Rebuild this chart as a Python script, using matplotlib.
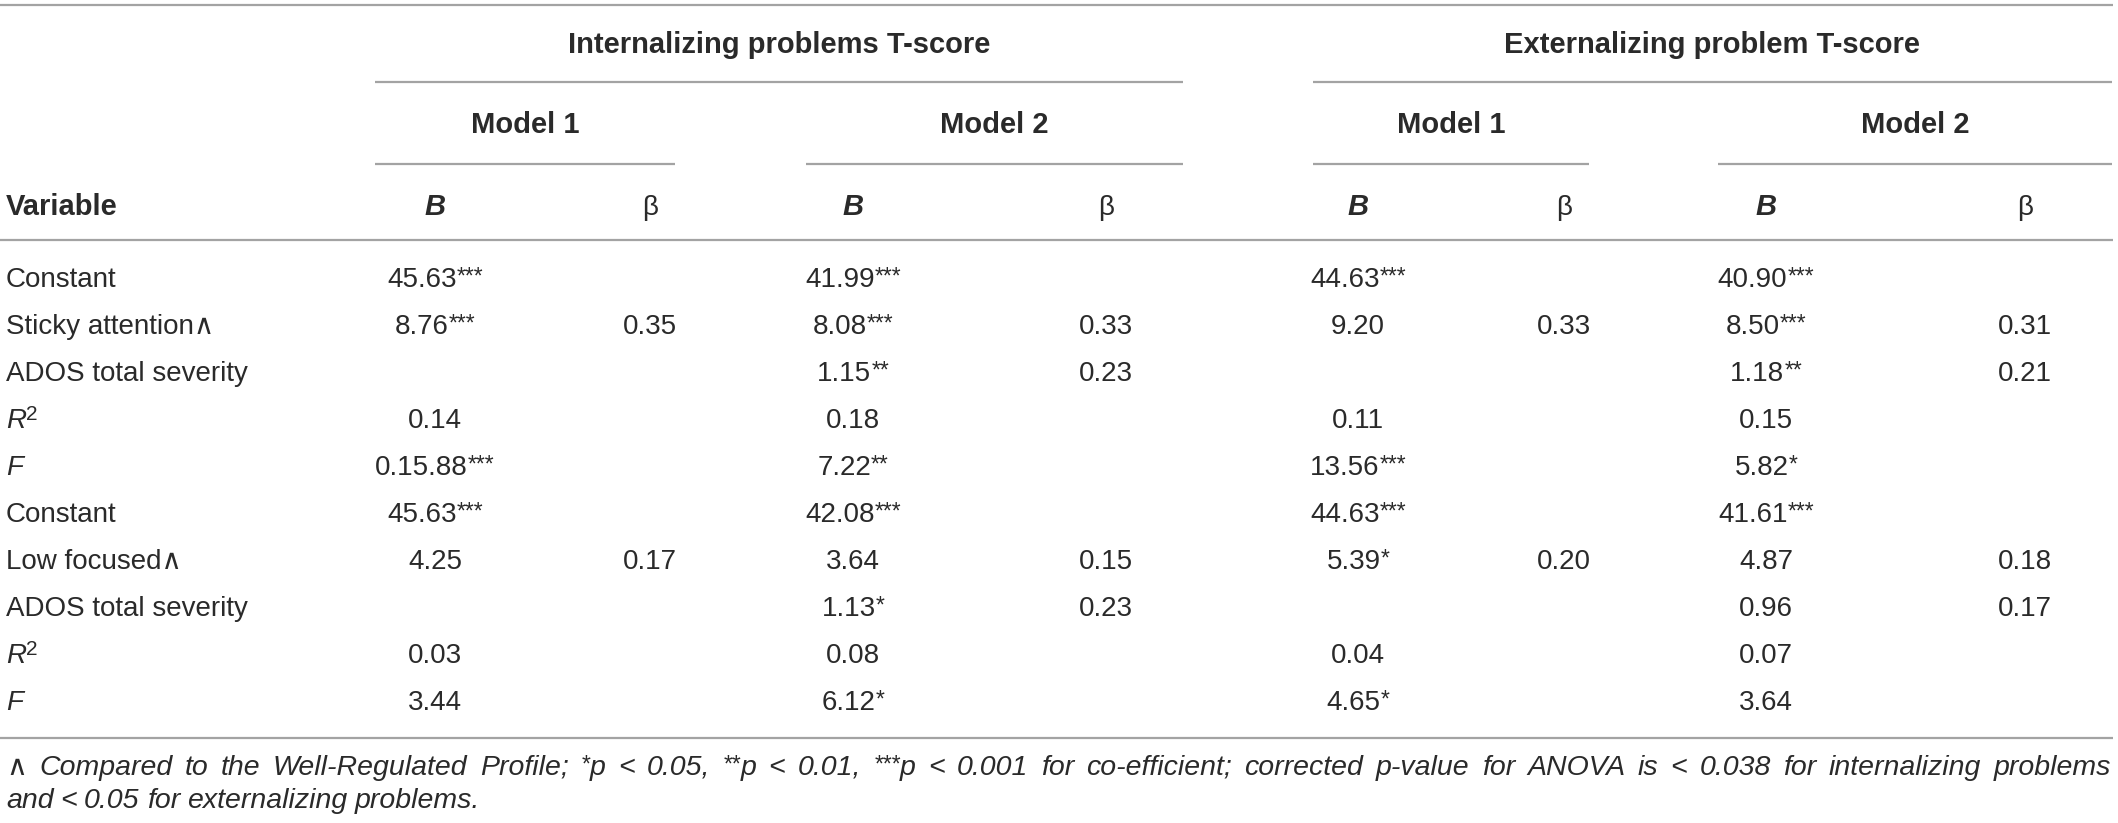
import re
import matplotlib
matplotlib.use("Agg")
import matplotlib.pyplot as plt

# table content
group_titles = ["Internalizing problems T-score", "Externalizing problem T-score"]
model_titles = ["Model 1", "Model 2", "Model 1", "Model 2"]
col_heads = ["B", "\u03b2", "B", "\u03b2", "B", "\u03b2", "B", "\u03b2"]
row_labels = ["Constant", "Sticky attention\u2227", "ADOS total severity", "R2", "F",
              "Constant", "Low focused\u2227", "ADOS total severity", "R2", "F"]
int_m1_B = ["45.63***", "8.76***", "", "0.14", "0.15.88***", "45.63***", "4.25", "", "0.03", "3.44"]
int_m1_beta = ["", "0.35", "", "", "", "", "0.17", "", "", ""]
int_m2_B = ["41.99***", "8.08***", "1.15**", "0.18", "7.22**", "42.08***", "3.64", "1.13*", "0.08", "6.12*"]
int_m2_beta = ["", "0.33", "0.23", "", "", "", "0.15", "0.23", "", ""]
ext_m1_B = ["44.63***", "9.20", "", "0.11", "13.56***", "44.63***", "5.39*", "", "0.04", "4.65*"]
ext_m1_beta = ["", "0.33", "", "", "", "", "0.20", "", "", ""]
ext_m2_B = ["40.90***", "8.50***", "1.18**", "0.15", "5.82*", "41.61***", "4.87", "0.96", "0.07", "3.64"]
ext_m2_beta = ["", "0.31", "0.21", "", "", "", "0.18", "0.17", "", ""]
footnote_1 = ("\u2227 Compared to the Well-Regulated Profile; *p < 0.05, **p < 0.01, ***p < 0.001 "
              "for co-efficient; corrected p-value for ANOVA is < 0.038 for internalizing problems")
footnote_2 = "and < 0.05 for externalizing problems."

columns = [int_m1_B, int_m1_beta, int_m2_B, int_m2_beta,
           ext_m1_B, ext_m1_beta, ext_m2_B, ext_m2_beta]

W, H = 2118, 823
FAM = ["Liberation Sans", "DejaVu Sans"]
FS = 20
TXT = "#2a2a2a"
LINE = "#a3a3a3"

fig = plt.figure(figsize=(W / 100, H / 100), dpi=100)
ax = fig.add_axes([0, 0, 1, 1])
ax.set_xlim(0, W)
ax.set_ylim(H, 0)
ax.axis("off")
renderer = fig.canvas.get_renderer()

styles = {
    "n": dict(fontsize=FS, rise=0),
    "b": dict(fontsize=21, rise=0, fontweight="bold"),
    "bi": dict(fontsize=21, rise=0, fontweight="bold", fontstyle="italic"),
    "i": dict(fontsize=FS, rise=0, fontstyle="italic"),
    "sup": dict(fontsize=16.5, rise=-3),
    "sup2": dict(fontsize=15, rise=-8),
    "fi": dict(fontsize=20.5, rise=0, fontstyle="italic"),
    "fsup": dict(fontsize=16.5, rise=-3, fontstyle="italic"),
}


def make_runs(runs, y):
    objs = []
    for txt, kind in runs:
        st = dict(styles[kind])
        rise = st.pop("rise")
        t = ax.text(0, y + rise, txt, family=FAM, color=TXT, va="baseline", ha="left", **st)
        objs.append(t)
    widths = [t.get_window_extent(renderer).width for t in objs]
    return objs, widths


def place(objs, widths, x):
    for t, w in zip(objs, widths):
        t.set_x(x)
        x += w


def put(x, y, runs, ha="left"):
    objs, widths = make_runs(runs, y)
    total = sum(widths)
    start = x - total / 2 if ha == "center" else x
    place(objs, widths, start)
    return total


def cell_runs(s):
    m = re.match(r"^(.*?)(\**)$", s)
    runs = [(m.group(1), "n")]
    if m.group(2):
        runs.append((m.group(2), "sup"))
    return runs


def label_runs(s):
    if s == "R2":
        return [("R", "i"), ("2", "sup2")]
    if s == "F":
        return [("F", "i")]
    return [(s, "n")]


def hline(y, x0, x1, lw=1.6):
    ax.plot([x0, x1], [y, y], color=LINE, lw=lw, solid_capstyle="butt")


BASE = 10  # baseline offset from row centre

# rules
hline(5, 0, 2113)
group_spans = [(375, 1183), (1313, 2112)]
model_spans = [(375, 675), (806, 1183), (1313, 1589), (1718, 2112)]
for x0, x1 in group_spans:
    hline(82, x0, x1)
for x0, x1 in model_spans:
    hline(164, x0, x1)
hline(240, 0, 2113)
hline(738, 0, 2113)

# header text
for (x0, x1), t in zip(group_spans, group_titles):
    put((x0 + x1) / 2, 43 + BASE, [(t, "b")], ha="center")
for (x0, x1), t in zip(model_spans, model_titles):
    put((x0 + x1) / 2, 123 + BASE, [(t, "b")], ha="center")

col_x = [435, 650, 853, 1106, 1358, 1564, 1766, 2025]
put(6, 205 + BASE, [("Variable", "b")])
for cx, h in zip(col_x, col_heads):
    put(cx, 205 + BASE, [(h, "bi" if h == "B" else "n")], ha="center")

# body
row_y = [277 + 47 * i for i in range(len(row_labels))]
for ry, lab in zip(row_y, row_labels):
    put(6, ry + BASE, label_runs(lab))
for cx, col in zip(col_x, columns):
    for ry, v in zip(row_y, col):
        if v:
            put(cx, ry + BASE, cell_runs(v), ha="center")


# footnote (first line justified)
def foot_word_runs(w):
    m = re.match(r"^(\*+)(.*)$", w)
    if m:
        return [(m.group(1), "fsup"), (m.group(2), "fi")]
    return [(w, "fi")]


words = footnote_1.split(" ")
x_left, x_right = 6, 2111
made = [make_runs(foot_word_runs(w), 765 + BASE) for w in words]
used = sum(sum(ws) for _, ws in made)
gap = (x_right - x_left - used) / (len(words) - 1)
x = x_left
for objs, ws in made:
    place(objs, ws, x)
    x += sum(ws) + gap

x = x_left
space = 7
for w in footnote_2.split(" "):
    x += put(x, 798 + BASE, foot_word_runs(w)) + space

fig.savefig("out.png", dpi=100)
